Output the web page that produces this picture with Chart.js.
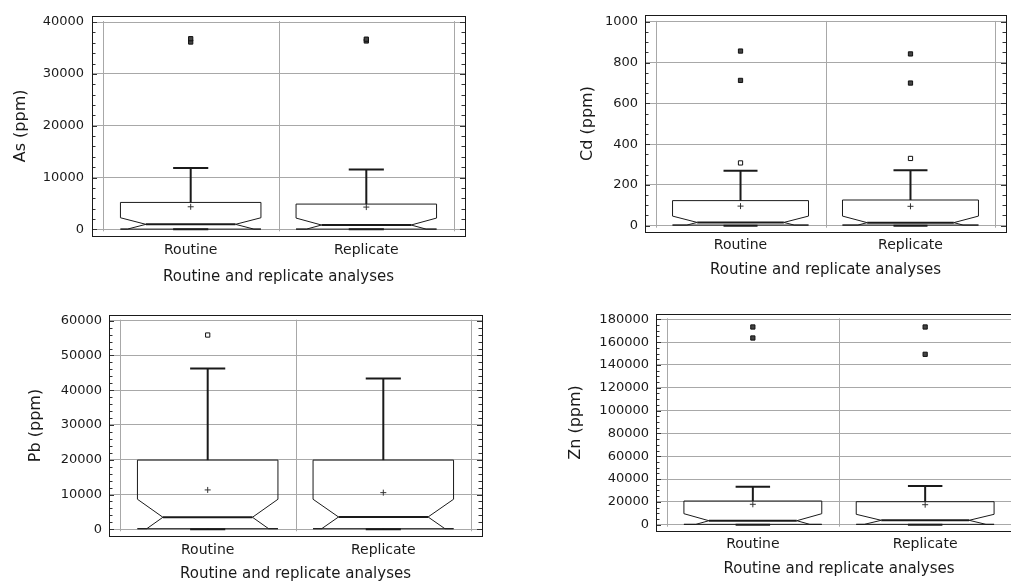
<!DOCTYPE html>
<html>
<head>
<meta charset="utf-8">
<script src="https://cdn.jsdelivr.net/npm/chart.js@4.4.1/dist/chart.umd.min.js"></script>
<style>
  html, body { margin: 0; padding: 0; background: #fff; overflow: hidden; }
  .panel { position: absolute; }
</style>
</head>
<body>
<div class="panel" style="left:0;top:0;width:505px;height:292px"><canvas id="c0"></canvas></div>
<div class="panel" style="left:505px;top:0;width:506px;height:292px"><canvas id="c1"></canvas></div>
<div class="panel" style="left:0;top:292px;width:505px;height:291px"><canvas id="c2"></canvas></div>
<div class="panel" style="left:505px;top:292px;width:530px;height:291px"><canvas id="c3"></canvas></div>
<script>
// Elements and sample groups
const elements = ['As', 'Cd', 'Pb', 'Zn'];
const groups = ['Routine', 'Replicate'];
const xTitle = 'Routine and replicate analyses';

// Box statistics in ppm, one [Routine, Replicate] pair per element
const lowWhisker = [[0, 0], [0, 0], [0, 0], [0, 0]];
const q1 = [[40, 40], [3, 3], [170, 170], [300, 300]];
const median = [[960, 830], [16, 15], [3456, 3540], [3500, 3850]];
const notchHigh = [[2230, 2170], [47, 47], [8640, 8640], [9640, 9110]];
const q3 = [[5190, 4870], [123, 126], [19900, 19900], [20770, 20160]];
const highWhisker = [[11850, 11540], [269, 272], [46260, 43380], [33300, 33920]];
const means = [[4350, 4290], [96, 95], [11320, 10540], [17880, 17530]];

// Outside points (open squares) and far outside points (filled squares)
const outside = [[[], []], [[308], [330]], [[55880], []], [[], []]];
const farOutside = [
  [[36150, 36790], [36350, 36700]],
  [[713, 857], [700, 843]],
  [[], []],
  [[163630, 173270], [149340, 173270]]
];

// Y axis ticks, minor tick step and visible range
const yTicks = [
  [0, 10000, 20000, 30000, 40000],
  [0, 200, 400, 600, 800, 1000],
  [0, 10000, 20000, 30000, 40000, 50000, 60000],
  [0, 20000, 40000, 60000, 80000, 100000, 120000, 140000, 160000, 180000]
];
const minorStep = [2000, 50, 2000, 5000];
const yRange = [[-1290, 41210], [-31, 1034], [-1930, 61640], [-5520, 184660]];
const xRange = [0.438, 2.562];

// Per-panel layout (pixels)
const layout = [
  { axisW: 92, axisH: 56, top: 15, right: 40, tickPad: 8, catPad: 6, xTitlePad: 6, yTitlePad: 11 },
  { axisW: 140, axisH: 60, top: 15, right: 5, tickPad: 7, catPad: 5, xTitlePad: 13, yTitlePad: 73 },
  { axisW: 109, axisH: 47, top: 23, right: 23, tickPad: 7, catPad: 6, xTitlePad: 0, yTitlePad: 26 },
  { axisW: 151, axisH: 52, top: 22, right: 13, tickPad: 7, catPad: 5, xTitlePad: 5, yTitlePad: 61 }
];

const gridColor = '#a8a8a8';
const ink = '#1a1a1a';
const boxHalf = 0.4, notchIndent = 0.145, capHalf = 0.1;

Chart.defaults.font.family = "'DejaVu Sans', sans-serif";
Chart.defaults.color = ink;

function line(ctx, x1, y1, x2, y2) {
  ctx.beginPath();
  ctx.moveTo(x1, y1);
  ctx.lineTo(x2, y2);
  ctx.stroke();
}

// notched boxes, whiskers and group dividers
function drawBoxes(chart, i) {
  const { ctx, scales: { x, y } } = chart;
  const ticks = yTicks[i];
  ctx.save();
  ctx.strokeStyle = gridColor;
  ctx.lineWidth = 1;
  const yTop = y.getPixelForValue(ticks[ticks.length - 1]) - 1;
  const yBot = y.getPixelForValue(ticks[0]) + 2;
  [0.5, 1.5, 2.5].forEach(v => {
    const px = Math.round(x.getPixelForValue(v)) + 0.5;
    line(ctx, px, yTop, px, yBot);
  });

  groups.forEach((g, j) => {
    const c = j + 1;
    const L = x.getPixelForValue(c - boxHalf), R = x.getPixelForValue(c + boxHalf);
    const nL = x.getPixelForValue(c - boxHalf + notchIndent);
    const nR = x.getPixelForValue(c + boxHalf - notchIndent);
    const med = median[i][j], hi = notchHigh[i][j], bottom = q1[i][j];
    const lo = Math.max(2 * med - hi, bottom);
    const f = (med - lo) / (hi - med);
    const yQ3 = y.getPixelForValue(q3[i][j]), yQ1 = y.getPixelForValue(bottom);
    const yHi = y.getPixelForValue(hi), yMed = y.getPixelForValue(med), yLo = y.getPixelForValue(lo);
    const lxLo = nL + (L - nL) * f, rxLo = nR + (R - nR) * f;

    ctx.strokeStyle = ink;
    ctx.lineWidth = 1;
    ctx.beginPath();
    ctx.moveTo(L, yQ3);
    ctx.lineTo(R, yQ3);
    ctx.lineTo(R, yHi);
    ctx.lineTo(nR, yMed);
    ctx.lineTo(rxLo, yLo);
    ctx.lineTo(R, yQ1);
    ctx.lineTo(L, yQ1);
    ctx.lineTo(lxLo, yLo);
    ctx.lineTo(nL, yMed);
    ctx.lineTo(L, yHi);
    ctx.closePath();
    ctx.stroke();

    ctx.lineWidth = 2;
    line(ctx, nL, yMed, nR, yMed);

    const cx = x.getPixelForValue(c);
    const capL = x.getPixelForValue(c - capHalf), capR = x.getPixelForValue(c + capHalf);
    const yW = y.getPixelForValue(highWhisker[i][j]), yMin = y.getPixelForValue(lowWhisker[i][j]);
    line(ctx, cx, yQ3, cx, yW);
    line(ctx, capL, yW, capR, yW);
    line(ctx, cx, yQ1, cx, yMin);
    line(ctx, capL, yMin, capR, yMin);
  });
  ctx.restore();
}

// plot frame with inward tick marks on both sides
function drawFrame(chart, i) {
  const { ctx, chartArea: a, scales: { y } } = chart;
  const ticks = yTicks[i];
  ctx.save();
  ctx.strokeStyle = '#333';
  ctx.lineWidth = 1;
  for (let v = ticks[0]; v <= ticks[ticks.length - 1]; v += minorStep[i]) {
    const py = Math.round(y.getPixelForValue(v)) + 0.5;
    const len = ticks.includes(v) ? 5 : 3.5;
    line(ctx, a.left, py, a.left + len, py);
    line(ctx, a.right, py, a.right - len, py);
  }
  ctx.strokeStyle = ink;
  ctx.strokeRect(Math.round(a.left) + 0.5, Math.round(a.top) + 0.5,
    Math.round(a.width), Math.round(a.height));
  ctx.restore();
}

function pointsFor(list, i) {
  const pts = [];
  groups.forEach((g, j) => list[i][j].forEach(v => pts.push({ x: j + 1, y: v })));
  return pts;
}

elements.forEach((el, i) => {
  const lay = layout[i];
  new Chart(document.getElementById('c' + i), {
    type: 'scatter',
    data: {
      datasets: [
        {
          label: 'Mean',
          data: groups.map((g, j) => ({ x: j + 1, y: means[i][j] })),
          pointStyle: 'cross', radius: 3, borderColor: '#333', borderWidth: 1
        },
        {
          label: 'Outside',
          data: pointsFor(outside, i),
          pointStyle: 'rect', radius: 3, backgroundColor: '#fff', borderColor: '#111', borderWidth: 1
        },
        {
          label: 'Far outside',
          data: pointsFor(farOutside, i),
          pointStyle: 'rect', radius: 3, backgroundColor: '#444', borderColor: '#111', borderWidth: 1
        }
      ]
    },
    options: {
      responsive: true,
      maintainAspectRatio: false,
      animation: false,
      events: [],
      layout: { padding: { left: 0, top: lay.top, right: lay.right, bottom: 0 } },
      plugins: { legend: { display: false }, tooltip: { enabled: false } },
      scales: {
        x: {
          type: 'linear',
          min: xRange[0], max: xRange[1],
          afterBuildTicks: s => { s.ticks = groups.map((g, j) => ({ value: j + 1 })); },
          afterFit: s => { s.height = lay.axisH; },
          grid: { display: false, drawTicks: false },
          border: { display: false },
          ticks: {
            padding: lay.catPad,
            font: { size: 14 },
            maxRotation: 0,
            callback: (v, idx) => groups[idx]
          },
          title: { display: true, text: xTitle, font: { size: 15 }, padding: { top: 0, bottom: lay.xTitlePad } }
        },
        y: {
          min: yRange[i][0], max: yRange[i][1],
          afterBuildTicks: s => { s.ticks = yTicks[i].map(v => ({ value: v })); },
          afterFit: s => { s.width = lay.axisW; },
          grid: { color: gridColor, lineWidth: 1, drawTicks: false },
          border: { display: false },
          ticks: { padding: lay.tickPad, font: { size: 13 }, callback: v => String(v) },
          title: { display: true, text: el + ' (ppm)', font: { size: 16 }, padding: { top: lay.yTitlePad, bottom: 0 } }
        }
      }
    },
    plugins: [{
      id: 'notchedBoxes',
      beforeDatasetsDraw: chart => drawBoxes(chart, i),
      afterDraw: chart => drawFrame(chart, i)
    }]
  });
});
</script>
</body>
</html>
